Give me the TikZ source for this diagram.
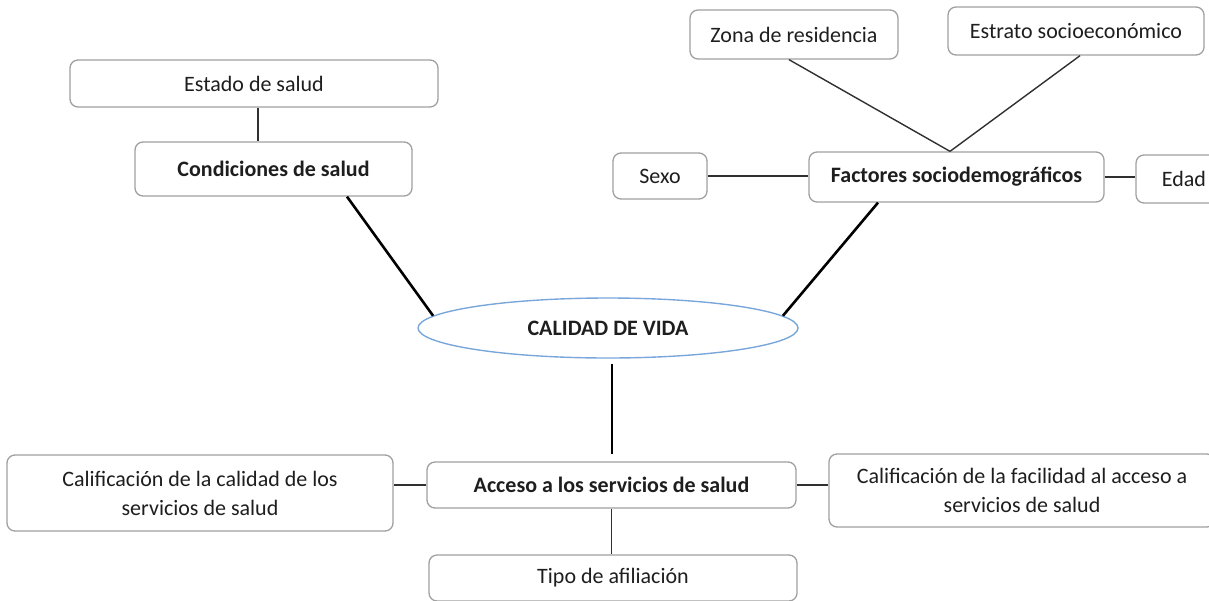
\documentclass[tikz,border=0pt]{standalone}
\usepackage{fontspec}
\setmainfont{Carlito}
\usetikzlibrary{shapes.geometric}
\definecolor{boxgray}{HTML}{A0A0A0}
\definecolor{txt}{HTML}{1E1E1E}
\definecolor{ellblue}{HTML}{7AA7DA}
\definecolor{linegray}{HTML}{303030}
\tikzset{
  box/.style={draw=boxgray, line width=1.3pt, rounded corners=8pt, fill=white,
    text=txt, font=\fontsize{22}{29}\selectfont, align=center, inner sep=0pt},
  boldbox/.style={box, font=\fontsize{22}{29}\selectfont\bfseries},
  thin/.style={draw=linegray, line width=1.4pt},
  thick/.style={draw=black, line width=2.6pt},
}
\begin{document}
\begin{tikzpicture}[x=1pt,y=-1pt]
\useasboundingbox (0,0) rectangle (1209,600);
\clip (0,0) rectangle (1209,600);
% nodes
\node[box, minimum width=368pt, minimum height=47pt] (estado) at (254,83.5) {Estado de salud};
\node[boldbox, minimum width=277pt, minimum height=54pt] (cond) at (273.5,169) {Condiciones de salud};
\node[box, minimum width=208pt, minimum height=49pt] (zona) at (794,34.5) {Zona de residencia};
\node[box, minimum width=256pt, minimum height=48pt] (estrato) at (1076,31) {Estrato socioeconómico};
\node[boldbox, minimum width=295pt, minimum height=50pt] (fact) at (956.5,177) {Factores sociodemográficos};
\node[box, minimum width=94pt, minimum height=46pt] (sexo) at (660,176) {Sexo};
\node[box, minimum width=96pt, minimum height=48pt] (edad) at (1184,179) {Edad};
\node[draw=ellblue, line width=1.4pt, ellipse, minimum width=380pt, minimum height=60pt,
      inner sep=0pt, text=txt, font=\fontsize{22}{29}\selectfont\bfseries] (calidad) at (608,328) {CALIDAD DE VIDA};
\node[boldbox, minimum width=369pt, minimum height=46pt] (acceso) at (611.5,485) {Acceso a los servicios de salud};
\node[box, minimum width=368pt, minimum height=46pt] (tipo) at (613,578) {Tipo de afiliación};
\node[box, minimum width=386pt, minimum height=76pt] (izq) at (200,493) {Calificación de la calidad de los\\servicios de salud};
\node[box, minimum width=386pt, minimum height=73pt] (der) at (1022,490.5) {Calificación de la facilidad al acceso a\\servicios de salud};
% connectors
\draw[thin] ([xshift=4pt]estado.south) -- ([xshift=4pt]estado.south |- cond.north);
\draw[thick] ([xshift=73.5pt]cond.south) -- (calidad.176);
\draw[thick] ([xshift=-78.5pt]fact.south) -- (calidad.4);
\draw[thick, shorten <=5pt, shorten >=7pt] ([xshift=4pt]calidad.south) -- ([xshift=4pt]calidad.south |- acceso.north);
\draw[thin] (acceso.south) -- (acceso.south |- tipo.north);
\draw[thin] (acceso.west) -- (acceso.west -| izq.east);
\draw[thin] (acceso.east) -- (acceso.east -| der.west);
\draw[thin] (sexo.east) -- (sexo.east -| fact.west);
\draw[thin] (fact.east) -- (fact.east -| edad.west);
\draw[thin] ([xshift=-5pt]zona.south) -- ([xshift=-6.5pt]fact.north);
\draw[thin] ([xshift=4pt]estrato.south) -- ([xshift=-6.5pt]fact.north);
\end{tikzpicture}
\end{document}
